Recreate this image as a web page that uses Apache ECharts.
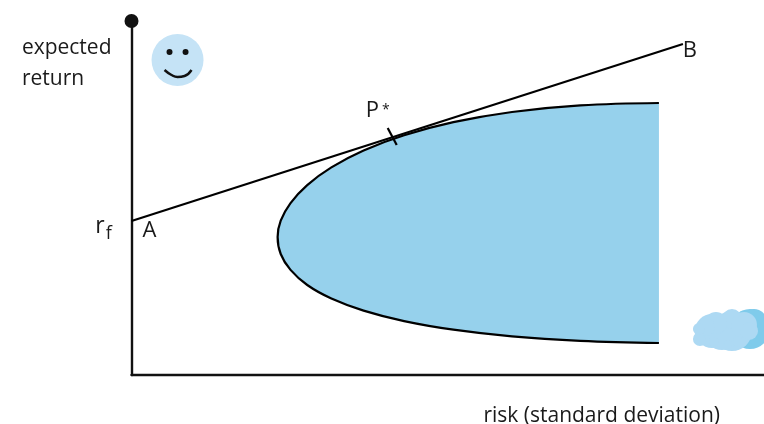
<!DOCTYPE html>
<html><head><meta charset="utf-8">
<style>html,body{margin:0;padding:0;background:#fff}#c{width:764px;height:424px}</style>
<script src="https://cdn.jsdelivr.net/npm/echarts@6/dist/echarts.min.js"></script>
</head><body><div id="c"></div>
<script>
const yAxisName = '{a|expected}\n{a|return}';
const xAxisName = 'risk (standard deviation)';
const frontier = [[527,272],[448.5,269.6],[380.2,263],[321.6,252.8],[272.4,239.7],[231.9,224.5],[199.7,207.6],[175.6,189.9],[158.9,171.9],[149.1,154.3],[146,138],[149.1,121],[158.9,105.1],[175.6,90],[199.7,76.5],[231.9,64.4],[272.4,53.9],[321.6,45.3],[380.2,38.6],[448.5,34.2],[527,32]];
const capitalLine = [[0,154],[551,331]];
const tangentTick = [[256,247],[265,230]];
const rateLabel = [[-28,149,'{r|r}{f|f}']];
const letterLabels = [[18,144,'A'],[558,324.5,'B']];
const starLabel = [[246,264.5,'{p|P}{s|*}']];
const face = [[46,315,52]];
const eyes = [[38,323,6],[54,323,6]];
const smile = [[33,305],[40,300],[46,298],[53,299],[60,305]];
const cloudDark = [[618,46,40],[612,54,20],[622,53,26]];
const cloudLight = [[580,44,34],[600,44,40],[568,36,14],[590,43,36],[600,56,20],[612,50,26],[617,44,18],[584,52,22],[574,48,18],[567,46,12],[582,33,10],[596,31,8],[606,33,10]];
const txt = '#1a1a1a', font = '"Open Sans"';
const chart = echarts.init(document.getElementById('c'));
const dot = (data, color, z) => ({type:'scatter',data,symbolSize:v=>v[2],itemStyle:{color,opacity:1},silent:true,z});
const lbl = (data, rich) => ({type:'scatter',data,symbolSize:0,clip:false,silent:true,z:6,itemStyle:{opacity:1},
  label:{show:true,position:'inside',formatter:p=>p.data[2],fontFamily:font,fontSize:22,color:txt,opacity:1,rich}});
chart.setOption({
  animation:false,
  grid:{left:131.5,top:21,width:632.5,height:354,outerBoundsMode:'none'},
  xAxis:{type:'value',min:0,max:632,splitLine:{show:false},axisTick:{show:false},axisLabel:{show:false},
    axisLine:{onZero:false,lineStyle:{color:'#111',width:2.4}},
    name:xAxisName,nameLocation:'end',nameGap:-44,
    nameTextStyle:{align:'right',verticalAlign:'top',fontFamily:font,fontSize:21,color:txt,padding:[31,0,0,0]}},
  yAxis:{type:'value',min:0,max:354,splitLine:{show:false},axisTick:{show:false},axisLabel:{show:false},
    axisLine:{onZero:false,symbol:['none','circle'],symbolSize:[14,14],lineStyle:{color:'#111',width:2.4}},
    name:yAxisName,nameLocation:'end',nameGap:-42.5,
    nameTextStyle:{align:'right',verticalAlign:'middle',padding:[0,20,0,0],
      rich:{a:{align:'left',fontFamily:font,fontSize:21,lineHeight:31,color:txt}}}},
  series:[
    {type:'custom',coordinateSystem:'cartesian2d',data:frontier,silent:true,z:1,
      encode:{x:0,y:1},
      renderItem:(p,api)=>p.dataIndex!==0?null:({type:'polygon',
        shape:{points:frontier.map(d=>api.coord(d))},style:{fill:'#96d1ec',stroke:null}})},
    {type:'line',data:frontier,smooth:0.4,showSymbol:false,lineStyle:{color:'#000',width:2.2},silent:true,z:2},
    {type:'line',data:capitalLine,showSymbol:false,lineStyle:{color:'#000',width:2.2},silent:true,z:3},
    {type:'line',data:tangentTick,showSymbol:false,lineStyle:{color:'#000',width:2.2},silent:true,z:3},
    dot(face,'#c5e3f6',2),
    dot(eyes,'#111',3),
    {type:'line',data:smile,smooth:0.5,showSymbol:false,lineStyle:{color:'#111',width:2.4},silent:true,z:3},
    dot(cloudDark,'#7fcbeb',2),
    dot(cloudLight,'#add9f3',3),
    lbl(rateLabel,{r:{fontFamily:font,fontSize:23,color:txt},f:{fontFamily:font,fontSize:18,color:txt,padding:[16,0,0,1]}}),
    lbl(letterLabels,{}),
    lbl(starLabel,{p:{fontFamily:font,fontSize:22,color:txt},s:{fontFamily:font,fontSize:14,color:txt,padding:[0,0,0,3]}})
  ]
});
</script></body></html>
